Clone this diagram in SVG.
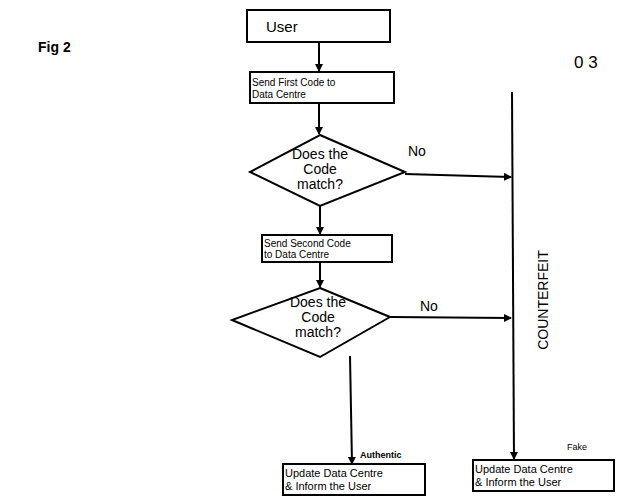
<svg xmlns="http://www.w3.org/2000/svg" width="636" height="503" viewBox="0 0 636 503">
<style>
.b{fill:#fff;stroke:#000;stroke-width:2}
.l{stroke:#000;stroke-width:2;fill:none}
text{font-family:"Liberation Sans",Arial,sans-serif;fill:#000}
.s{font-size:10px}
.m{font-size:14px}
</style>
<defs><marker id="a" markerWidth="8" markerHeight="8" refX="7" refY="4" orient="auto" markerUnits="userSpaceOnUse"><path d="M0,0L8,4L0,8z" fill="#000"/></marker></defs>
<rect width="636" height="503" fill="#fff"/>
<text x="38" y="52" font-size="14" font-weight="bold">Fig 2</text>
<text x="574" y="68" font-size="17">0 3</text>
<g id="connectors">
<path class="l" d="M319,42V71" marker-end="url(#a)"/>
<path class="l" d="M319,103V134" marker-end="url(#a)"/>
<path class="l" d="M320,206V234" marker-end="url(#a)"/>
<path class="l" d="M320,262V287" marker-end="url(#a)"/>
<path class="l" d="M405,174L511,177" marker-end="url(#a)"/>
<path class="l" d="M390,317L511,318" marker-end="url(#a)"/>
<path class="l" d="M512,92L514,459" marker-end="url(#a)"/>
<path class="l" d="M350,356L352,464" marker-end="url(#a)"/>
<text x="408" y="156" class="m">No</text>
<text x="420" y="311" class="m">No</text>
<text x="360" y="458" font-size="9" font-weight="bold">Authentic</text>
<text x="567" y="450" font-size="9">Fake</text>
<text transform="translate(548,300) rotate(-90)" text-anchor="middle" font-size="14">COUNTERFEIT</text>
</g>
<g id="user"><rect class="b" x="247" y="10" width="143" height="32"/><text x="266" y="32" font-size="15">User</text></g>
<g id="send1"><rect class="b" x="250" y="72" width="144" height="31"/><text x="252" y="86" class="s">Send First Code to</text><text x="252" y="98" class="s">Data Centre</text></g>
<g id="d1"><polygon class="b" points="320,135 405,172 320,206 250,172"/><text x="320" y="159" text-anchor="middle" class="m">Does the</text><text x="320" y="174" text-anchor="middle" class="m">Code</text><text x="320" y="189" text-anchor="middle" class="m">match?</text></g>
<g id="send2"><rect class="b" x="262" y="235" width="130" height="27"/><text x="264" y="247" class="s">Send Second Code</text><text x="264" y="258" class="s">to Data Centre</text></g>
<g id="d2"><polygon class="b" points="320,288 390,317 320,357 232,320"/><text x="318" y="307" text-anchor="middle" class="m">Does the</text><text x="318" y="322" text-anchor="middle" class="m">Code</text><text x="318" y="337" text-anchor="middle" class="m">match?</text></g>
<g id="upd1"><rect class="b" x="283" y="464" width="142" height="31"/><text x="285" y="477" font-size="11">Update Data Centre</text><text x="285" y="490" font-size="11">&amp; Inform the User</text></g>
<g id="upd2"><rect class="b" x="473" y="460" width="141" height="31"/><text x="475" y="473" font-size="11">Update Data Centre</text><text x="475" y="486" font-size="11">&amp; Inform the User</text></g>
</svg>
